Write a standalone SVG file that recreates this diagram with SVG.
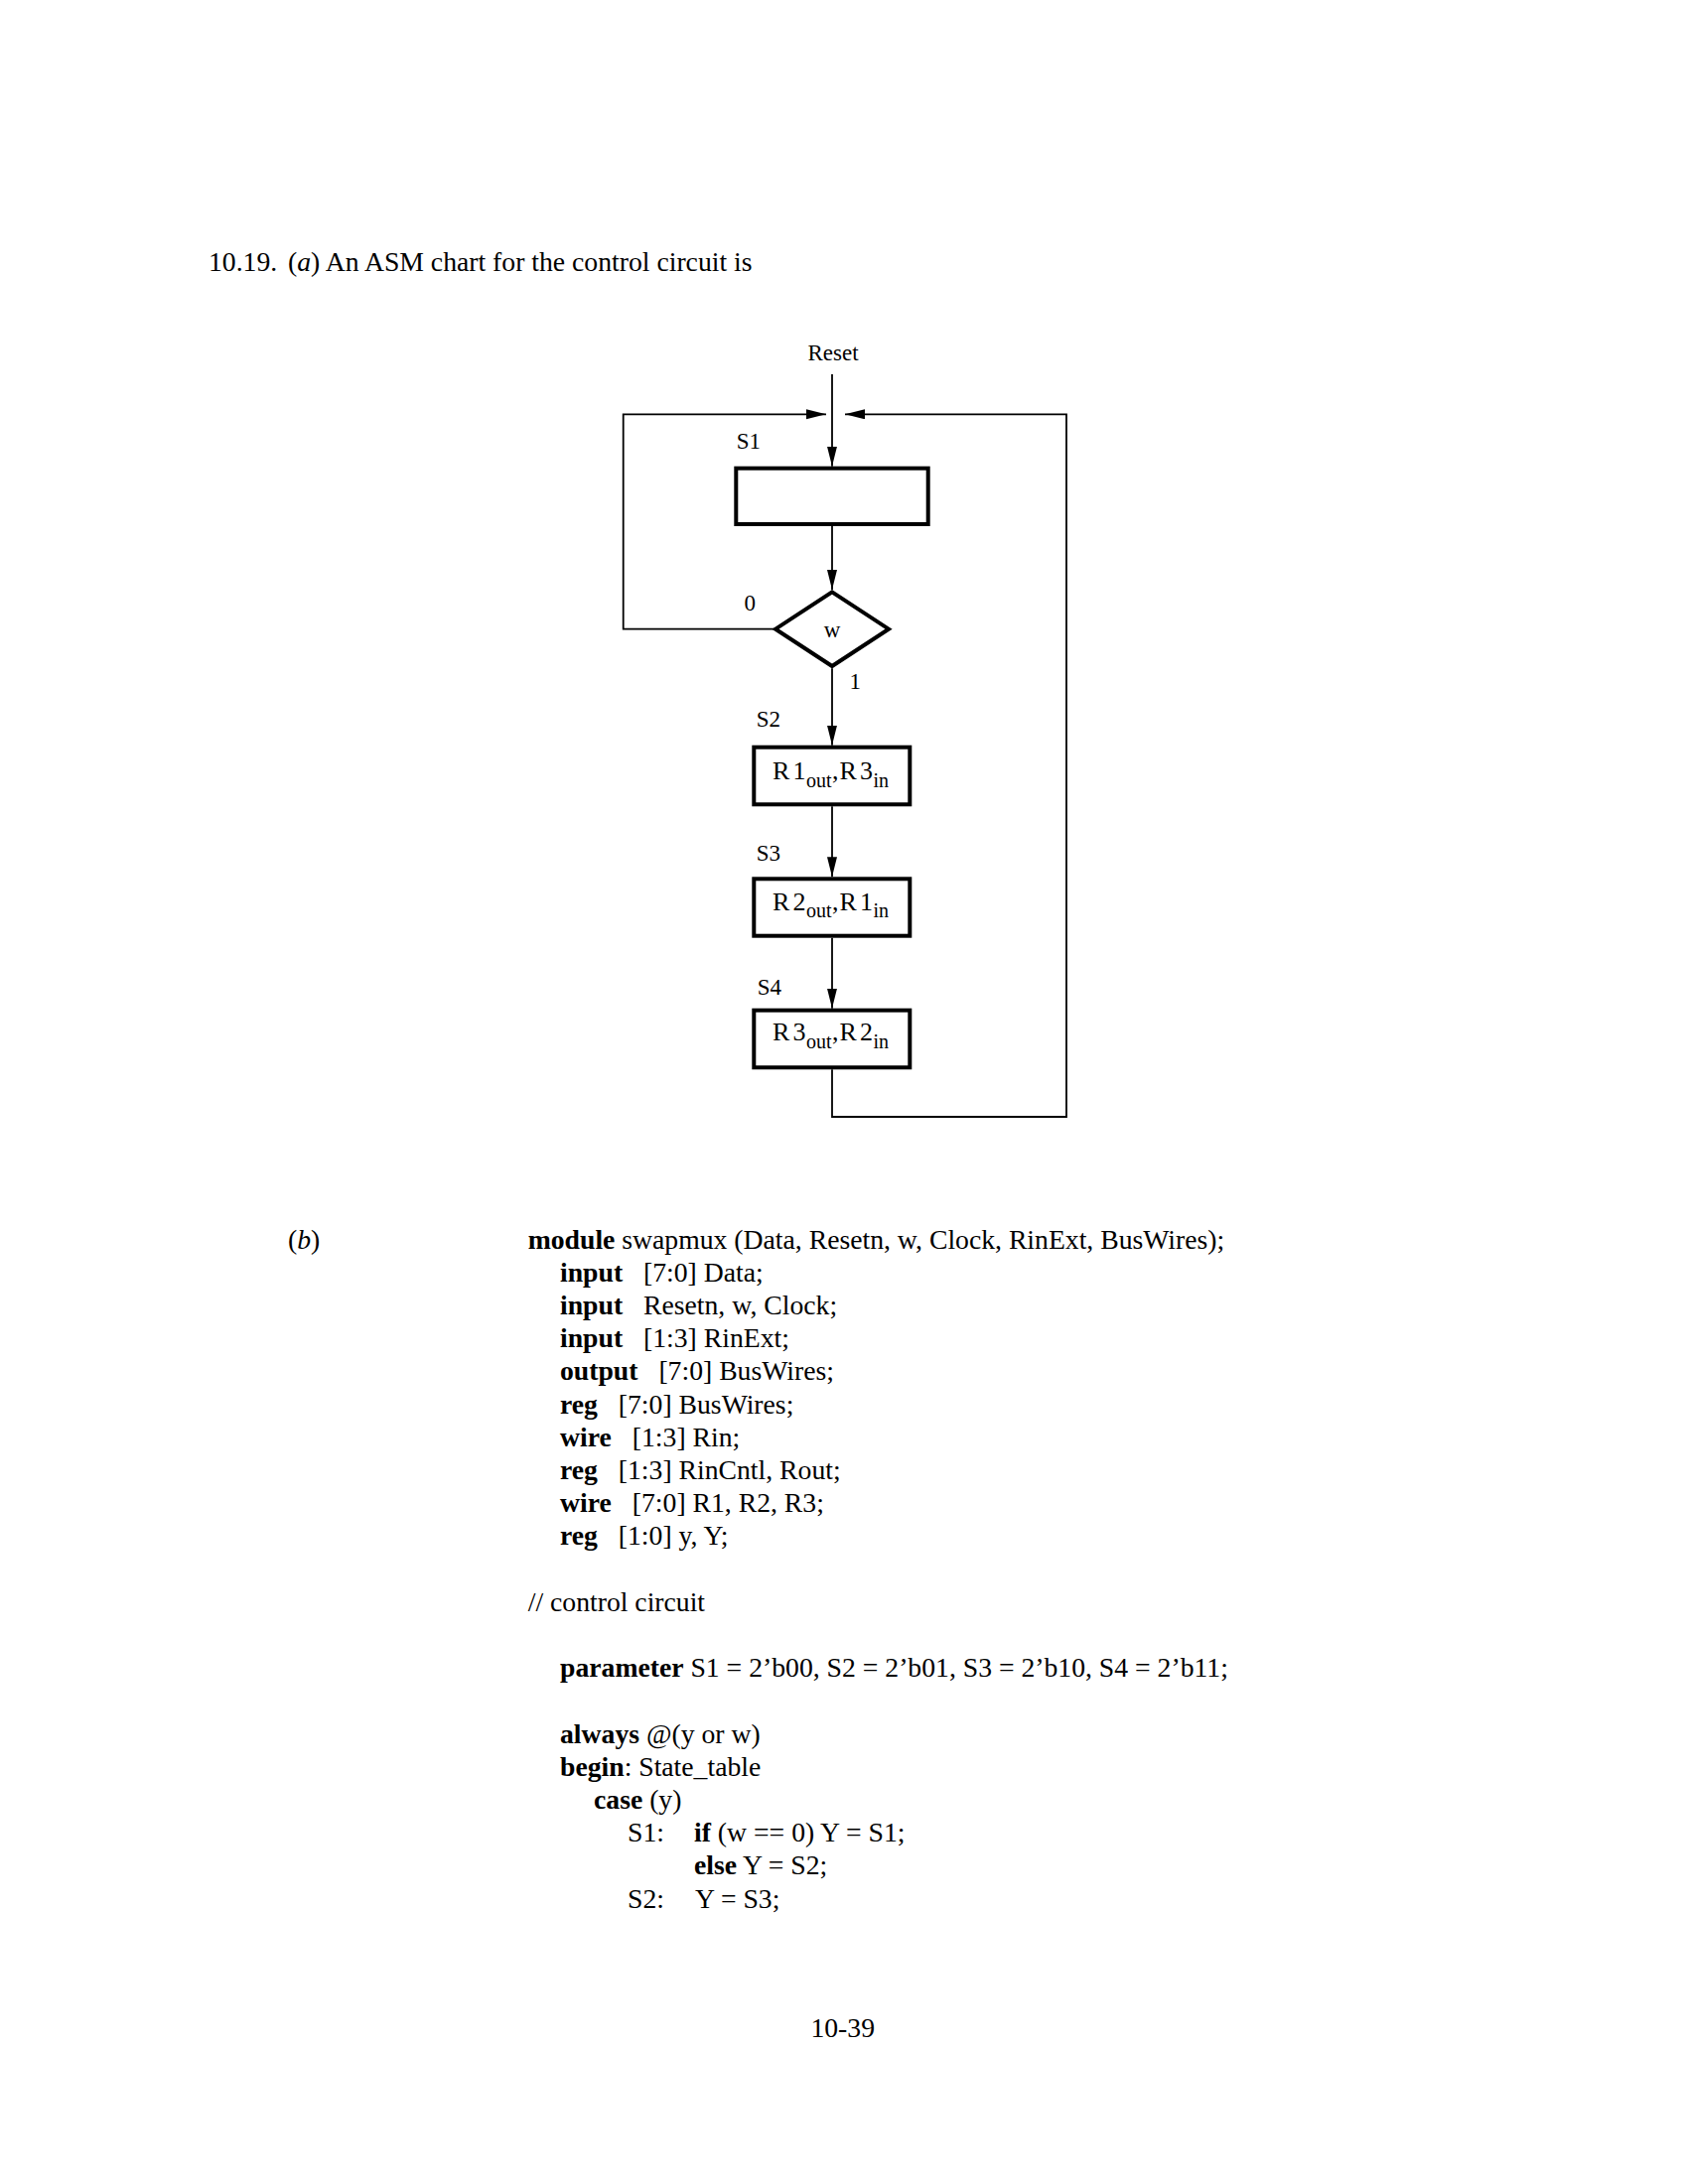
<svg xmlns="http://www.w3.org/2000/svg" width="1700" height="2200" viewBox="0 0 1700 2200">
<style>
  text { font-family: "Liberation Serif", "Times New Roman", serif; fill: #000; }
  .body { font-size: 27.7px; }
  .b { font-weight: bold; }
  .lbl { font-size: 23px; }
  .box { fill: #fff; stroke: #000; stroke-width: 4; }
  .conn { fill: none; stroke: #000; stroke-width: 1.8; }
  .main { font-size: 26px; }
  .sub { font-size: 20px; }
</style>
<defs>
  <marker id="arr" markerUnits="userSpaceOnUse" markerWidth="21" markerHeight="11" refX="20" refY="5" orient="auto">
    <path d="M0,0 L20,5 L0,10 z" fill="#000"/>
  </marker>
</defs>
<rect x="0" y="0" width="1700" height="2200" fill="#fff"/>

<text class="body" x="210" y="273" font-size="28.2">10.19.</text>
<text class="body" x="290" y="273" font-size="28.2">(<tspan font-style="italic">a</tspan>) An ASM chart for the control circuit is</text>

<g id="connectors">
  <path class="conn" d="M838,377 L838,469.7" marker-end="url(#arr)"/>
  <path class="conn" d="M838,530 L838,594" marker-end="url(#arr)"/>
  <path class="conn" d="M838,673.3 L838,750.7" marker-end="url(#arr)"/>
  <path class="conn" d="M838,812.3 L838,883.3" marker-end="url(#arr)"/>
  <path class="conn" d="M838,944.7 L838,1015.7" marker-end="url(#arr)"/>
  <path class="conn" d="M782,633.7 L627.7,633.7 L627.7,417.3 L832,417.3" marker-end="url(#arr)"/>
  <path class="conn" d="M838,1077.3 L838,1125 L1074,1125 L1074,417.3 L851,417.3" marker-end="url(#arr)"/>
</g>

<g id="reset">
  <text class="lbl" x="839" y="362.7" text-anchor="middle" font-size="24.5">Reset</text>
</g>

<g id="S1">
  <text class="lbl" x="741.7" y="451.7">S1</text>
  <rect class="box" x="741.3" y="471.7" width="193.4" height="56.3"/>
</g>

<g id="decision_w">
  <path class="box" d="M838,596.4 L895,633.7 L838,671 L781,633.7 Z" stroke-width="4.5"/>
  <text class="lbl" x="838" y="641.7" text-anchor="middle">w</text>
  <text class="lbl" x="749.5" y="615">0</text>
  <text class="lbl" x="855.5" y="694">1</text>
</g>

<g id="S2">
  <text class="lbl" x="761.7" y="731.7">S2</text>
  <rect class="box" x="759.3" y="752.7" width="157" height="57.6"/>
  <text class="main" x="778" y="785">R<tspan x="798.5">1</tspan><tspan class="sub" x="812" y="792.7">out</tspan><tspan x="838" y="785">,</tspan><tspan x="845.5">R</tspan><tspan x="866">3</tspan><tspan class="sub" x="879.5" y="792.7">in</tspan></text>
</g>

<g id="S3">
  <text class="lbl" x="761.7" y="867.3">S3</text>
  <rect class="box" x="759.3" y="885.3" width="157" height="57.4"/>
  <text class="main" x="778" y="916.7">R<tspan x="798.5">2</tspan><tspan class="sub" x="812" y="924.4">out</tspan><tspan x="838" y="916.7">,</tspan><tspan x="845.5">R</tspan><tspan x="866">1</tspan><tspan class="sub" x="879.5" y="924.4">in</tspan></text>
</g>

<g id="S4">
  <text class="lbl" x="762.7" y="1001.7">S4</text>
  <rect class="box" x="759.3" y="1017.7" width="157" height="57.6"/>
  <text class="main" x="778" y="1048.3">R<tspan x="798.5">3</tspan><tspan class="sub" x="812" y="1056">out</tspan><tspan x="838" y="1048.3">,</tspan><tspan x="845.5">R</tspan><tspan x="866">2</tspan><tspan class="sub" x="879.5" y="1056">in</tspan></text>
</g>

<g id="code">
  <text class="body" x="290" y="1257.5">(<tspan font-style="italic">b</tspan>)</text>
  <text class="body" x="531.7" y="1257.5"><tspan class="b">module</tspan> swapmux (Data, Resetn, w, Clock, RinExt, BusWires);</text>
  <text class="body b" x="564" y="1290.7">input</text><text class="body" x="648" y="1290.7">[7:0] Data;</text>
  <text class="body b" x="564" y="1323.9">input</text><text class="body" x="648" y="1323.9">Resetn, w, Clock;</text>
  <text class="body b" x="564" y="1357.1">input</text><text class="body" x="648" y="1357.1">[1:3] RinExt;</text>
  <text class="body b" x="564" y="1390.3">output</text><text class="body" x="663.4" y="1390.3">[7:0] BusWires;</text>
  <text class="body b" x="564" y="1423.5">reg</text><text class="body" x="622.8" y="1423.5">[7:0] BusWires;</text>
  <text class="body b" x="564" y="1456.7">wire</text><text class="body" x="636.8" y="1456.7">[1:3] Rin;</text>
  <text class="body b" x="564" y="1489.9">reg</text><text class="body" x="622.8" y="1489.9">[1:3] RinCntl, Rout;</text>
  <text class="body b" x="564" y="1523.1">wire</text><text class="body" x="636.8" y="1523.1">[7:0] R1, R2, R3;</text>
  <text class="body b" x="564" y="1556.3">reg</text><text class="body" x="622.8" y="1556.3">[1:0] y, Y;</text>

  <text class="body" x="531.7" y="1622.7">// control circuit</text>
  <text class="body" x="564" y="1689.1"><tspan class="b">parameter</tspan> S1 = 2’b00, S2 = 2’b01, S3 = 2’b10, S4 = 2’b11;</text>
  <text class="body" x="564" y="1755.5"><tspan class="b">always</tspan> @(y or w)</text>
  <text class="body" x="564" y="1788.7"><tspan class="b">begin</tspan>: State_table</text>
  <text class="body" x="598" y="1821.9"><tspan class="b">case</tspan> (y)</text>
  <text class="body" x="632" y="1855.1">S1:</text>
  <text class="body" x="699" y="1855.1"><tspan class="b">if</tspan> (w == 0) Y = S1;</text>
  <text class="body" x="699" y="1888.3"><tspan class="b">else</tspan> Y = S2;</text>
  <text class="body" x="632" y="1921.5">S2:</text>
  <text class="body" x="700" y="1921.5">Y = S3;</text>
</g>

<text class="body" x="848.7" y="2051.7" text-anchor="middle">10-39</text>
</svg>
